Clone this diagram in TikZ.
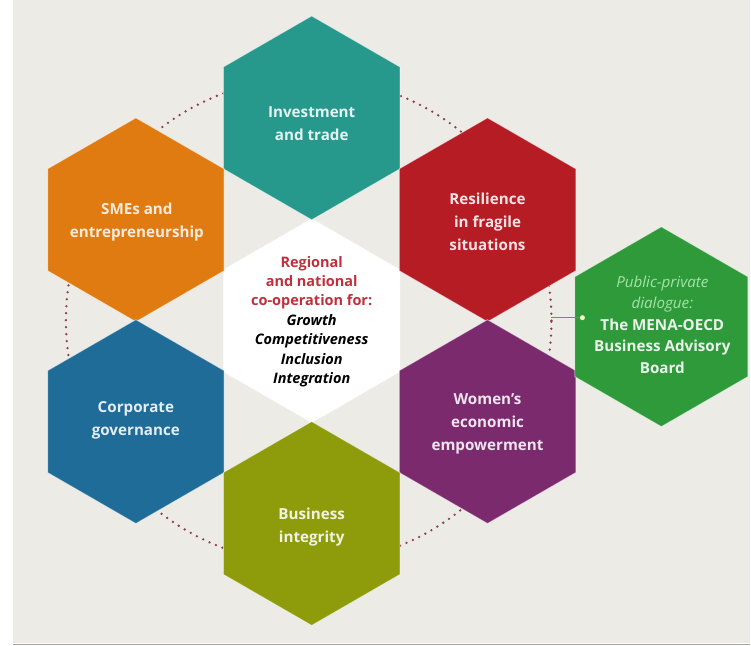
\documentclass[tikz,border=0pt]{standalone}
\usepackage{fontspec}
\setmainfont{Open Sans}
\usetikzlibrary{shapes.geometric}
\definecolor{bg}{HTML}{EDEBE6}
\definecolor{cteal}{HTML}{26998C}
\definecolor{corange}{HTML}{E07B12}
\definecolor{cred}{HTML}{B51C24}
\definecolor{cblue}{HTML}{1F6C98}
\definecolor{cpurple}{HTML}{7C2A6E}
\definecolor{colive}{HTML}{8E9C0C}
\definecolor{cgreen}{HTML}{2E9A3A}
\definecolor{dotc}{HTML}{8E3A4C}
\definecolor{ctitle}{HTML}{C0303C}
\begin{document}
\begin{tikzpicture}[x=1pt,y=-1pt,
  hexa/.style={regular polygon, regular polygon sides=6, shape border rotate=30,
    minimum size=204pt, inner sep=0pt, draw=white, draw opacity=0.5, line width=0.8pt},
  lbl/.style={align=center, font=\fontsize{15.2}{23}\selectfont\bfseries, inner sep=0pt},
  mid/.style={align=center, font=\fontsize{14.5}{19.5}\selectfont\bfseries, inner sep=0pt}]
\fill[white] (0,0) rectangle (751,646);
\fill[bg] (13,0) rectangle (751,644);
\draw[gray!70, line width=1.5pt] (13,645) -- (751,645);
\useasboundingbox (0,0) rectangle (751,646);
\coordinate (c) at (309,321);
\draw[dotc, line width=2.6pt, dash pattern=on 0pt off 7pt, line cap=round] (c) circle[radius=243pt];
% hexagons
\node[hexa, fill=white] (hc) at (312,321) {};
\node[hexa, fill=cteal] (ht) at (312,118) {};
\node[hexa, fill=corange] (ho) at (136,220) {};
\node[hexa, fill=cred] (hr) at (488,220) {};
\node[hexa, fill=cblue] (hb) at (136,422) {};
\node[hexa, fill=cpurple] (hp) at (488,422) {};
\node[hexa, fill=colive] (hl) at (312,524) {};
\node[hexa, fill=cgreen, minimum size=200pt] (hg) at (662,327) {};
% connector
\coordinate (cj) at (552,318);
\node[circle, fill=green!15!yellow!25, inner sep=0pt, minimum size=5pt] (jd) at (583,318) {};
\draw[cred!70, line width=0.9pt] (cj) -- (jd);
% labels
\node[lbl, text=cteal!12] (tt) at (312,124) {Investment\\and trade};
\node[lbl, text=corange!15] (to) at (137,222) {SMEs and\\entrepreneurship};
\node[lbl, text=cred!12] (tr) at (488,222) {Resilience\\in fragile\\situations};
\node[lbl, text=cblue!12] (tb) at (136,421) {Corporate\\governance};
\node[lbl, text=cpurple!12] (tp) at (488,424) {Women's\\economic\\empowerment};
\node[lbl, text=colive!12] (tl) at (312,528) {Business\\integrity};
\node[mid] (tc) at (312,322) {\textcolor{ctitle}{Regional}\\\textcolor{ctitle}{and national}\\\textcolor{ctitle}{co-operation for:}\\\textit{Growth}\\\textit{Competitiveness}\\\textit{Inclusion}\\\textit{Integration}};
\node[align=center, inner sep=0pt, font=\fontsize{15.2}{21.5}\selectfont] (tg) at (663,325) {\textcolor{green!30!cgreen!40}{\textit{Public-private}}\\\textcolor{green!30!cgreen!40}{\textit{dialogue:}}\\\textcolor{cgreen!10}{\bfseries The MENA-OECD}\\\textcolor{cgreen!10}{\bfseries Business Advisory}\\\textcolor{cgreen!10}{\bfseries Board}};
\end{tikzpicture}
\end{document}
